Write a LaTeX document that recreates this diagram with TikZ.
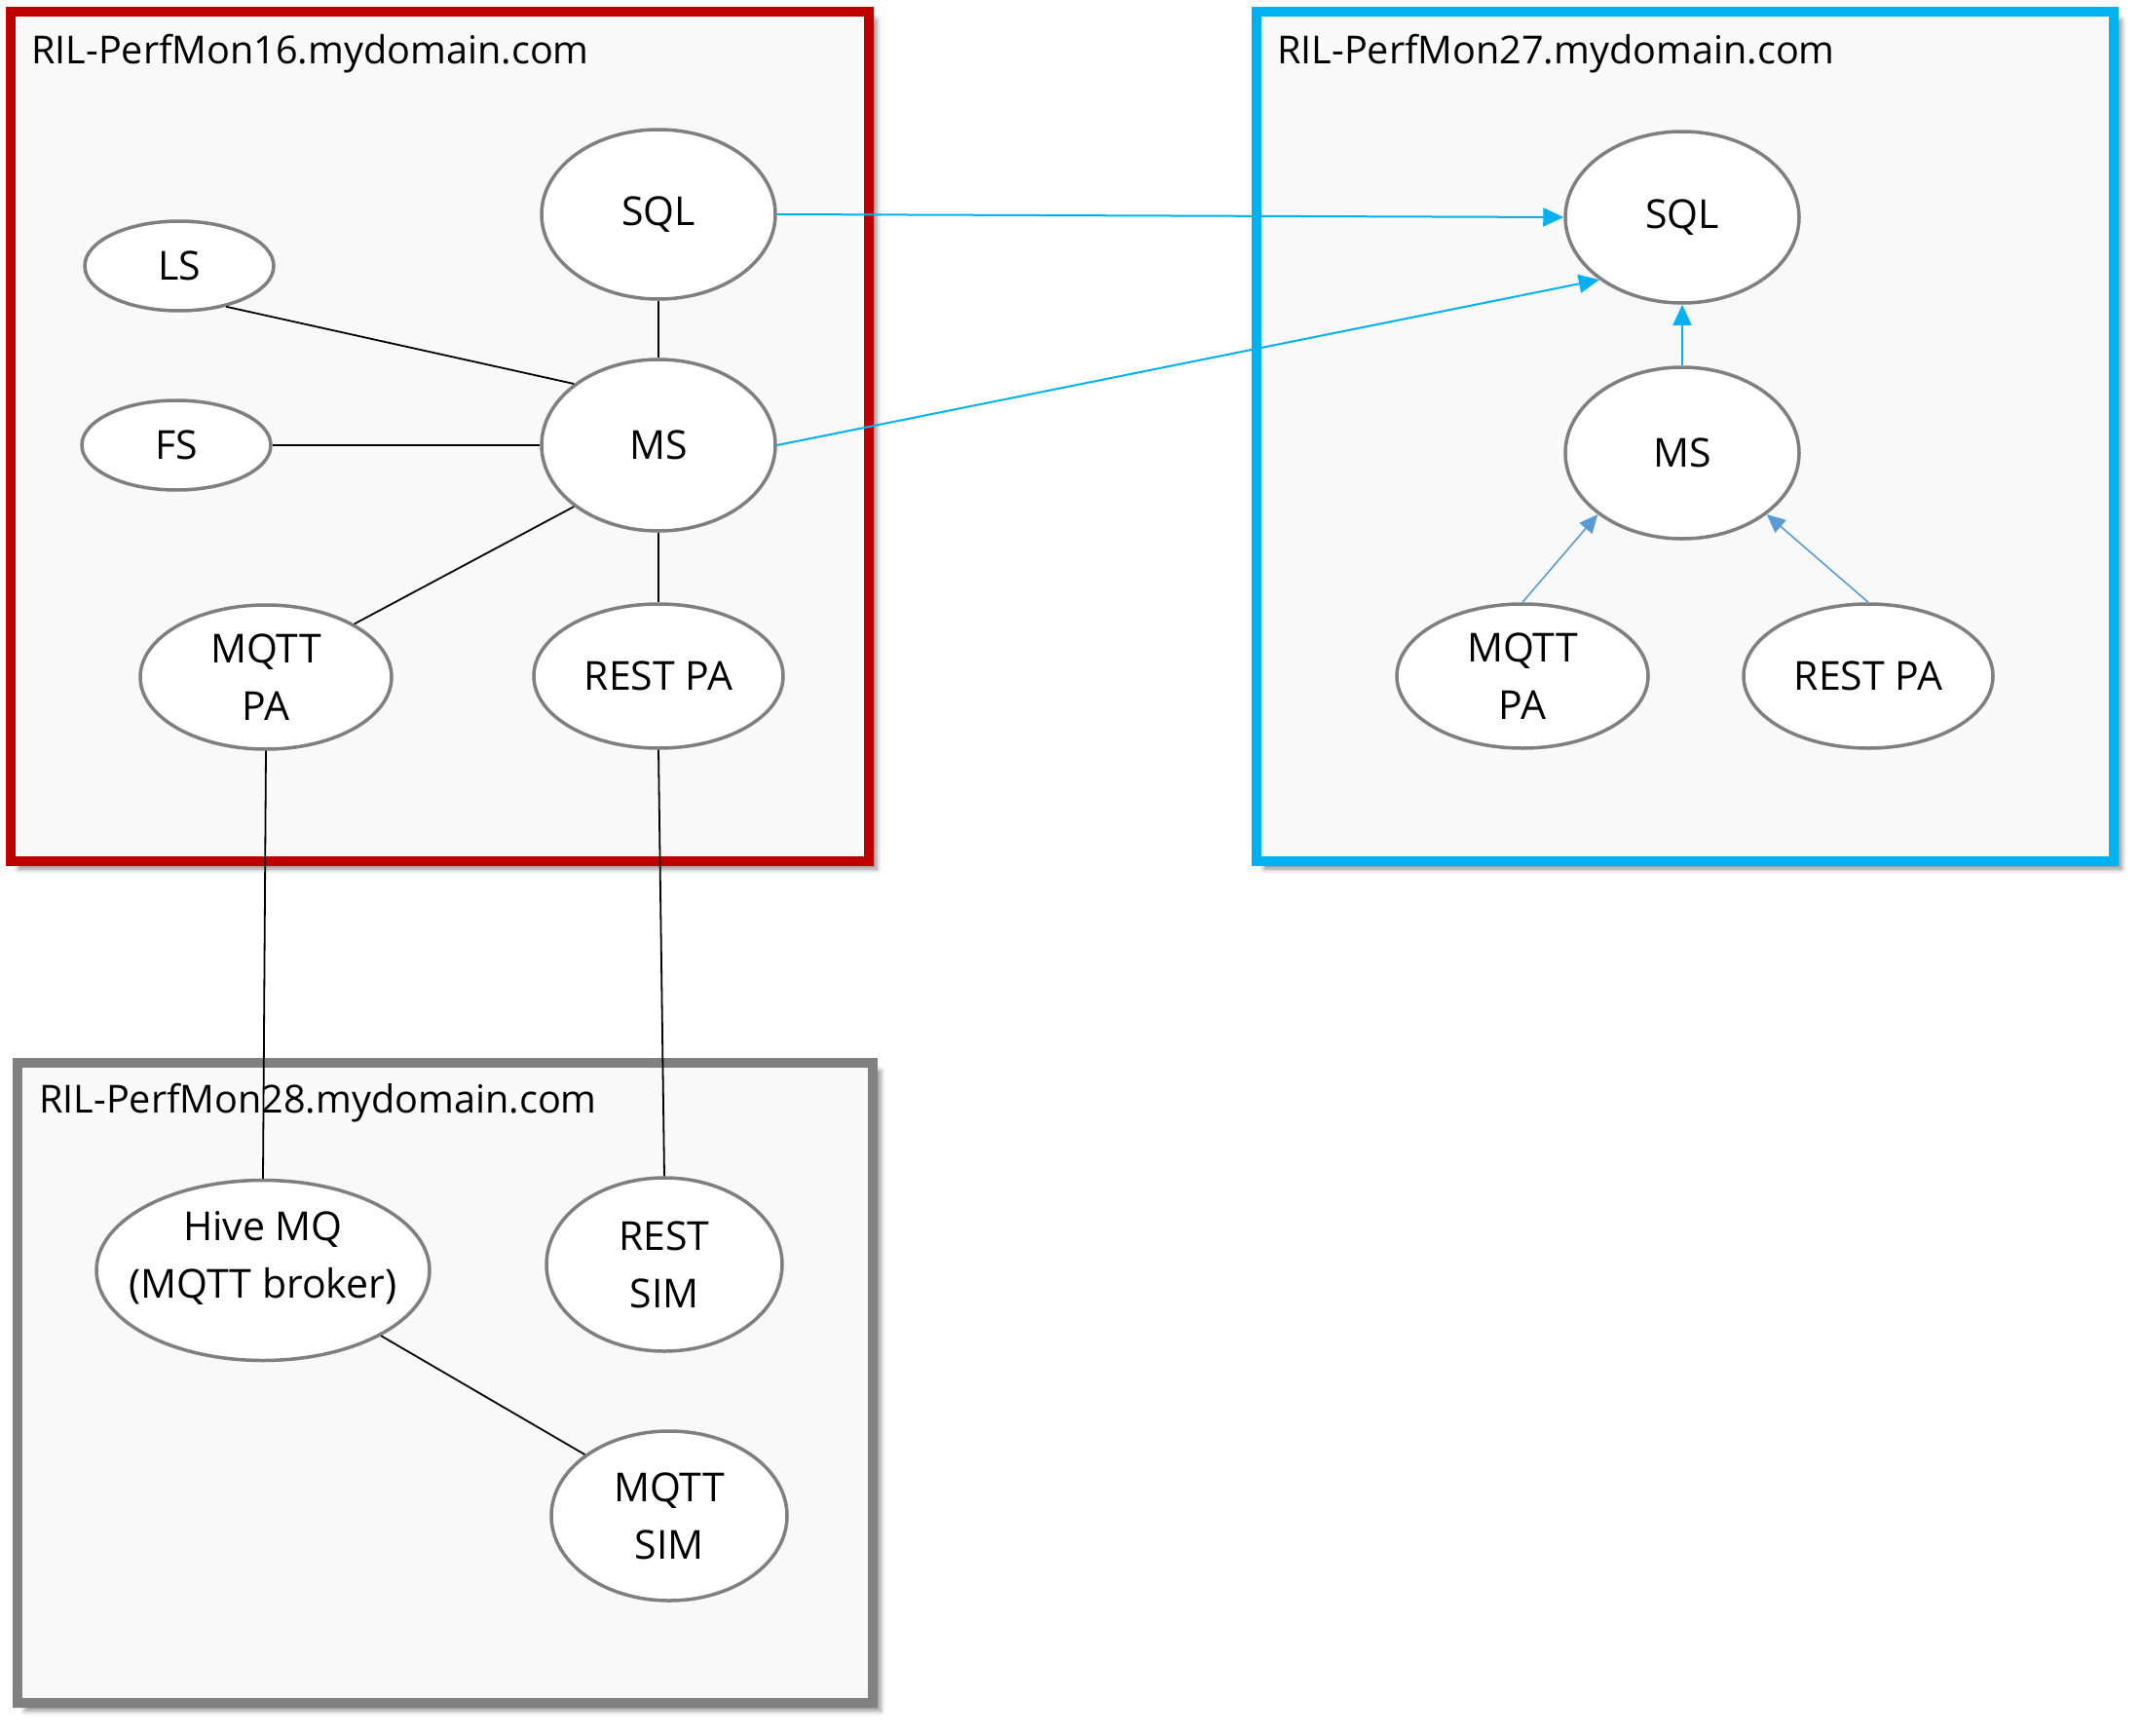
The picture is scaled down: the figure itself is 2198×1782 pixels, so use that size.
\documentclass[tikz,border=0pt]{standalone}
\usepackage{fontspec}
\setmainfont{Open Sans}
\usetikzlibrary{arrows.meta,shadows.blur,shapes.geometric}
\definecolor{redbox}{HTML}{C00000}
\definecolor{bluebox}{HTML}{00B0F0}
\definecolor{graybox}{HTML}{808080}
\definecolor{boxfill}{HTML}{F9F9F9}
\definecolor{ellline}{HTML}{7F7F7F}
\definecolor{arrblue}{HTML}{5B9BD5}
\begin{document}
\begin{tikzpicture}[x=1pt,y=-1pt,
  hostbox/.style={line width=10pt, fill=boxfill, blur shadow={shadow xshift=8pt, shadow yshift=-8pt, shadow blur radius=5pt, shadow opacity=45}},
  svc/.style={ellipse, draw=ellline, line width=3.5pt, fill=white, inner sep=0pt, align=center, font=\fontsize{41}{59}\selectfont},
  title/.style={anchor=base west, inner sep=0pt, font=\fontsize{39.6}{56}\selectfont},
  link/.style={line width=1.8pt, black},
  cyanarrow/.style={line width=2pt, bluebox, -{Triangle[length=21pt,width=19pt]}},
  paarrow/.style={line width=1.6pt, arrblue, -{Triangle[length=19pt,width=17pt]}},
]
\useasboundingbox (0,0) rectangle (2198,1782);
% host boxes
\draw[hostbox, draw=redbox] (11,12) rectangle (892,884);
\draw[hostbox, draw=bluebox] (1290,12) rectangle (2170,884);
\draw[hostbox, draw=graybox] (18,1091) rectangle (896,1748);
% titles
\node[title] (t16) at (32,66) {RIL-PerfMon16.mydomain.com};
\node[title] (t27) at (1311,66) {RIL-PerfMon27.mydomain.com};
\node[title] (t28) at (40,1142) {RIL-PerfMon28.mydomain.com};
% PerfMon16
\node[svc, minimum width=240pt, minimum height=174pt] (sql16) at (676,220) {SQL};
\node[svc, minimum width=194pt, minimum height=92pt] (ls) at (184,273) {LS};
\node[svc, minimum width=240pt, minimum height=176pt] (ms16) at (676,457) {MS};
\node[svc, minimum width=194pt, minimum height=92pt] (fs) at (181,457) {FS};
\node[svc, minimum width=258pt, minimum height=148pt] (mqttpa16) at (273,695) {MQTT\\PA};
\node[svc, minimum width=256pt, minimum height=148pt] (restpa16) at (676,694) {REST PA};
% PerfMon27
\node[svc, minimum width=240pt, minimum height=176pt] (sql27) at (1727,223) {SQL};
\node[svc, minimum width=240pt, minimum height=176pt] (ms27) at (1727,465) {MS};
\node[svc, minimum width=258pt, minimum height=148pt] (mqttpa27) at (1563,694) {MQTT\\PA};
\node[svc, minimum width=256pt, minimum height=148pt] (restpa27) at (1918,694) {REST PA};
% PerfMon28
\node[svc, inner xsep=-40pt, text depth=32pt, minimum width=342pt, minimum height=185pt] (hive) at (270,1304) {Hive MQ\\(MQTT broker)};
\node[svc, minimum width=242pt, minimum height=178pt] (restsim) at (682,1298) {REST\\SIM};
\node[svc, minimum width=242pt, minimum height=174pt] (mqttsim) at (687,1556) {MQTT\\SIM};
% links
\draw[link] (ls.-41) -- (ms16.144);
\draw[link] (fs.east) -- (ms16.west);
\draw[link] (sql16.south) -- (ms16.north);
\draw[link] (ms16.216) -- (mqttpa16.31);
\draw[link] (ms16.south) -- (restpa16.north);
\draw[link] (mqttpa16.south) -- (hive.north);
\draw[link] (restpa16.south) -- (restsim.north);
\draw[link] (hive.-29) -- (mqttsim.144);
\draw[cyanarrow] (sql16.east) -- (sql27.west);
\draw[cyanarrow] (ms16.east) -- (sql27.217);
\draw[cyanarrow] (ms27.north) -- (sql27.south);
\draw[paarrow] (mqttpa27.north) -- (ms27.216);
\draw[paarrow] (restpa27.north) -- (ms27.-36);
\end{tikzpicture}
\end{document}
